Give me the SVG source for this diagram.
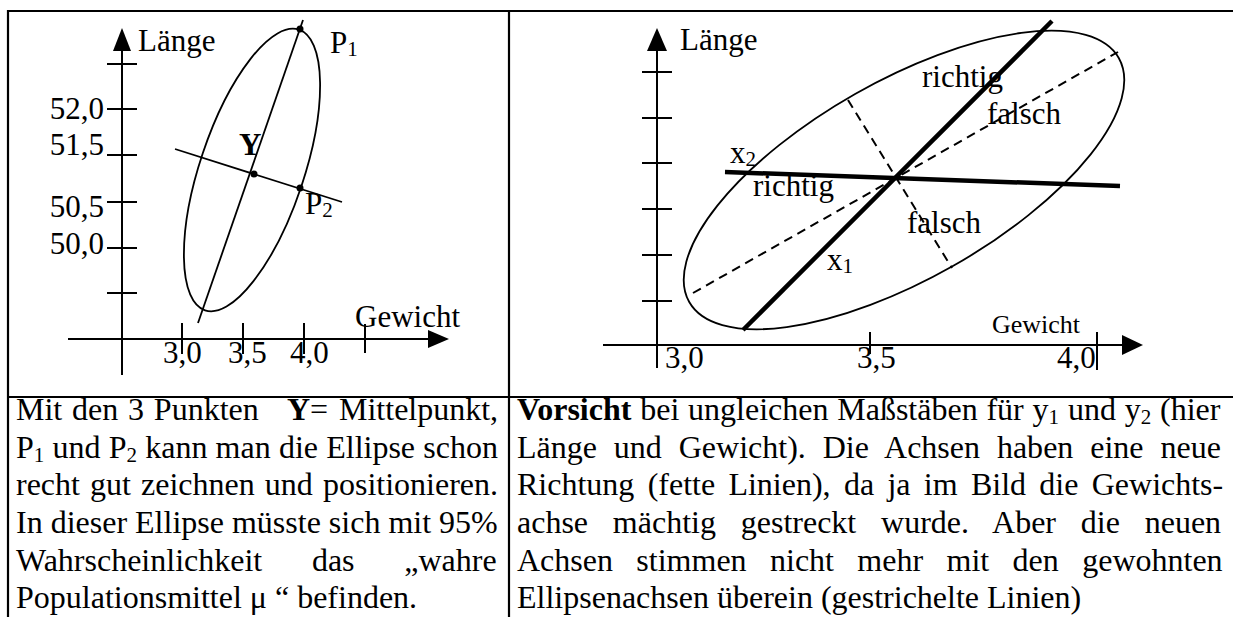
<svg xmlns="http://www.w3.org/2000/svg" width="1233" height="617" viewBox="0 0 1233 617">
<style>
text{font-family:"Liberation Serif","Times New Roman",serif;fill:#000}
.lbl{font-size:31px}
.body{font-size:32px}
.sub{font-size:21px}
.b{font-weight:bold}
.ax{stroke:#000;stroke-width:2;fill:none}
.thin{stroke:#000;stroke-width:1.8;fill:none}
.thick{stroke:#000;stroke-width:4.5;fill:none}
.dash{stroke:#000;stroke-width:2;stroke-dasharray:9 6;fill:none}
.frame{stroke:#000;stroke-width:2.2;fill:none}
</style>
<rect width="1233" height="617" fill="#fff"/>
<g id="table">
<path class="frame" d="M8,617 V11 H1233 M509,11 V617 M8,397 H1233"/>
</g>
<g id="left-diagram">
<g id="left-axes">
<path class="ax" d="M122,48 V375 M68,339 H430"/>
<polygon points="122,28 113,51 131,51"/>
<polygon points="449,339 428,330 428,348"/>
<path class="ax" d="M107,64 H137 M107,109 H137 M107,155 H137 M107,202 H137 M107,248 H137 M107,293 H137 M182,323 V354 M243,323 V354 M304,323 V354 M365,324 V353"/>
<text class="lbl" x="138" y="51">Länge</text>
<text class="lbl" x="104" y="119" text-anchor="end">52,0</text>
<text class="lbl" x="104" y="155" text-anchor="end">51,5</text>
<text class="lbl" x="104" y="217" text-anchor="end">50,5</text>
<text class="lbl" x="104" y="254" text-anchor="end">50,0</text>
<text class="lbl" x="163" y="363">3,0</text>
<text class="lbl" x="228" y="363">3,5</text>
<text class="lbl" x="290" y="363">4,0</text>
<text class="lbl" x="355" y="327">Gewicht</text>
</g>
<g id="left-ellipse">
<ellipse class="thin" cx="252" cy="170" rx="52" ry="148" transform="rotate(18.5 252 170)"/>
<line class="thin" x1="303" y1="20" x2="198" y2="323"/>
<line class="thin" x1="175" y1="149" x2="342" y2="202"/>
<circle cx="300" cy="29" r="3.5"/>
<circle cx="254" cy="174" r="3.5"/>
<circle cx="300" cy="188" r="3.5"/>
<text class="lbl" x="330" y="53">P<tspan class="sub" dy="3">1</tspan></text>
<text class="lbl b" x="239" y="155">Y</text>
<text class="lbl" x="305" y="214">P<tspan class="sub" dy="3">2</tspan></text>
</g>
</g>
<g id="right-diagram">
<g id="right-axes">
<path class="ax" d="M657,48 V368 M603,345 H1124"/>
<polygon points="657,28 647,51 667,51"/>
<polygon points="1143,345 1122,335 1122,355"/>
<path class="ax" d="M642,72 H672 M642,118 H672 M642,163 H672 M642,209 H672 M642,255 H672 M642,301 H672 M870,332 V354 M1097,332 V370"/>
<text class="lbl" x="680" y="50">Länge</text>
<text class="lbl" x="665" y="368">3,0</text>
<text class="lbl" x="857" y="368">3,5</text>
<text class="lbl" x="1057" y="368">4,0</text>
<text x="992" y="333" font-size="26">Gewicht</text>
</g>
<g id="right-ellipse">
<ellipse class="thin" cx="904" cy="180" rx="247" ry="99" transform="rotate(-29.6 904 180)"/>
<line class="dash" x1="693" y1="293" x2="1118" y2="52"/>
<line class="dash" x1="848" y1="100" x2="952" y2="268"/>
<line class="thick" x1="743" y1="330" x2="1052" y2="21"/>
<line class="thick" x1="725" y1="172" x2="1120" y2="186"/>
<text class="lbl" x="730" y="163">x<tspan class="sub" dy="3">2</tspan></text>
<text class="lbl" x="753" y="196">richtig</text>
<text class="lbl" x="922" y="87">richtig</text>
<text class="lbl" x="987" y="124">falsch</text>
<text class="lbl" x="907" y="233">falsch</text>
<text class="lbl" x="827" y="270">x<tspan class="sub" dy="3">1</tspan></text>
</g>
</g>
<g id="left-caption">
<text class="body" x="16" y="420" word-spacing="1.8">Mit den 3 Punkten<tspan x="287" class="b">Y</tspan>=<tspan x="339">Mittelpunkt,</tspan></text>
<text class="body" x="16" y="458" word-spacing="0.2">P<tspan class="sub" dy="4">1</tspan><tspan dy="-4"> und P</tspan><tspan class="sub" dy="4">2</tspan><tspan dy="-4"> kann man die Ellipse schon</tspan></text>
<text class="body" x="16" y="495" word-spacing="2.1">recht gut zeichnen und positionieren.</text>
<text class="body" x="16" y="533">In dieser Ellipse müsste sich mit 95%</text>
<text class="body" x="16" y="571" word-spacing="41.7">Wahrscheinlichkeit das „wahre</text>
<text class="body" x="16" y="608">Populationsmittel μ “ befinden.</text>
</g>
<g id="right-caption">
<text class="body" x="517" y="420" word-spacing="0.8"><tspan class="b">Vorsicht</tspan> bei ungleichen Maßstäben für y<tspan class="sub" dy="4">1</tspan><tspan dy="-4"> und y</tspan><tspan class="sub" dy="4">2</tspan><tspan dy="-4"> (hier</tspan></text>
<text class="body" x="517" y="458" word-spacing="8.9">Länge und Gewicht). Die Achsen haben eine neue</text>
<text class="body" x="517" y="495" word-spacing="5.3">Richtung (fette Linien), da ja im Bild die Gewichts-</text>
<text class="body" x="517" y="533" word-spacing="16.8">achse mächtig gestreckt wurde. Aber die neuen</text>
<text class="body" x="517" y="571" word-spacing="15.4">Achsen stimmen nicht mehr mit den gewohnten</text>
<text class="body" x="517" y="608">Ellipsenachsen überein (gestrichelte Linien)</text>
</g>
</svg>
